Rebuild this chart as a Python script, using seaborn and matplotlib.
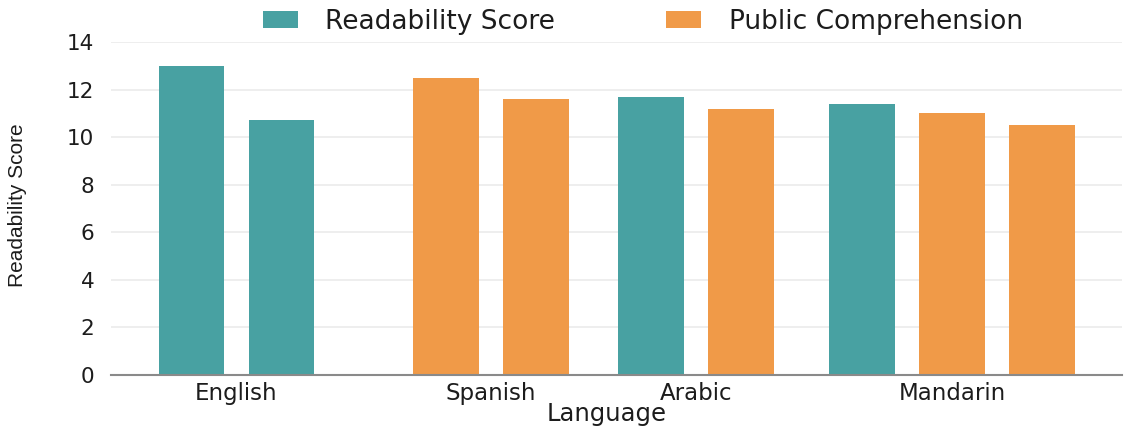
import matplotlib
matplotlib.use("Agg")
import matplotlib.pyplot as plt
from matplotlib import font_manager
import seaborn as sns
import pandas as pd
import numpy as np

# ---- data ----
languages = ["English", "English", "Spanish", "Spanish", "Arabic", "Arabic",
             "Mandarin", "Mandarin", "Mandarin"]
series = ["Readability Score", "Readability Score",
          "Public Comprehension", "Public Comprehension",
          "Readability Score", "Public Comprehension",
          "Readability Score", "Public Comprehension", "Public Comprehension"]
values = [13.0, 10.7, 12.5, 11.6, 11.7, 11.2, 11.4, 11.0, 10.5]
language_order = ["English", "Spanish", "Arabic", "Mandarin"]
series_order = ["Readability Score", "Public Comprehension"]
y_ticks = [0, 2, 4, 6, 8, 10, 12, 14]

# ---- layout (not data) ----
group_gaps = [1.83, 1.28, 1.34]   # distance between groups in bar-slot units
palette = {"Readability Score": "#48a1a2", "Public Comprehension": "#f09a48"}

pos = []
cur = 0.0
prev = None
gi = -1
for lang in languages:
    if prev is not None:
        if lang != prev:
            gi += 1
            cur += group_gaps[gi]
        else:
            cur += 1.0
    pos.append(cur)
    prev = lang

df = pd.DataFrame({"Language": languages, "Series": series,
                   "Value": values, "pos": pos})

sns.set_style("white")
plt.rcParams["font.family"] = ["DejaVu Sans"]

installed = {f.name for f in font_manager.fontManager.ttflist}
narrow = "Liberation Sans Narrow" if "Liberation Sans Narrow" in installed else "Liberation Sans"

TXT = "#1c1c1c"
fig = plt.figure(figsize=(11.3, 4.3), dpi=100)
ax = fig.add_axes([111 / 1130, 55 / 430, 1011 / 1130, 333 / 430])

sns.barplot(data=df, x="pos", y="Value", hue="Series", hue_order=series_order,
            palette=palette, native_scale=True, width=0.73, dodge=False,
            linewidth=0, saturation=1, ax=ax)

ax.set_xlim(-0.894, 10.34)
ax.set_ylim(0, 14)
ax.set_yticks(y_ticks)
ax.set_yticklabels([str(t) for t in y_ticks], fontsize=15.5, color=TXT)
ax.tick_params(axis="y", length=0, pad=12)

centers = [df.loc[df.Language == l, "pos"].mean() for l in language_order]
ax.set_xticks(centers)
ax.set_xticklabels(language_order, fontsize=16.5, color=TXT)
ax.tick_params(axis="x", length=0, pad=5)

ax.grid(axis="y", color="#ebebeb", linewidth=1.2)
ax.set_axisbelow(True)
for s in ["left", "right", "top"]:
    ax.spines[s].set_visible(False)
ax.spines["bottom"].set_color("#8a8a8a")
ax.spines["bottom"].set_linewidth(1.5)

ax.set_xlabel("Language", fontsize=17.5, color=TXT)
ax.xaxis.set_label_coords(0.49, -0.082)
ax.set_ylabel("Readability Score", fontsize=15, color=TXT,
              family=[narrow, "DejaVu Sans"])
ax.yaxis.set_label_coords(-0.083, 0.51)

sns.move_legend(ax, loc="center left", bbox_to_anchor=(252 / 1130, 408 / 430),
                bbox_transform=fig.transFigure, ncol=2, frameon=False,
                title=None, fontsize=19, handlelength=1.33, handleheight=0.6,
                handletextpad=1.05, columnspacing=4.2, borderaxespad=0)
for t in ax.get_legend().get_texts():
    t.set_color(TXT)

fig.savefig("out.png", dpi=100)
